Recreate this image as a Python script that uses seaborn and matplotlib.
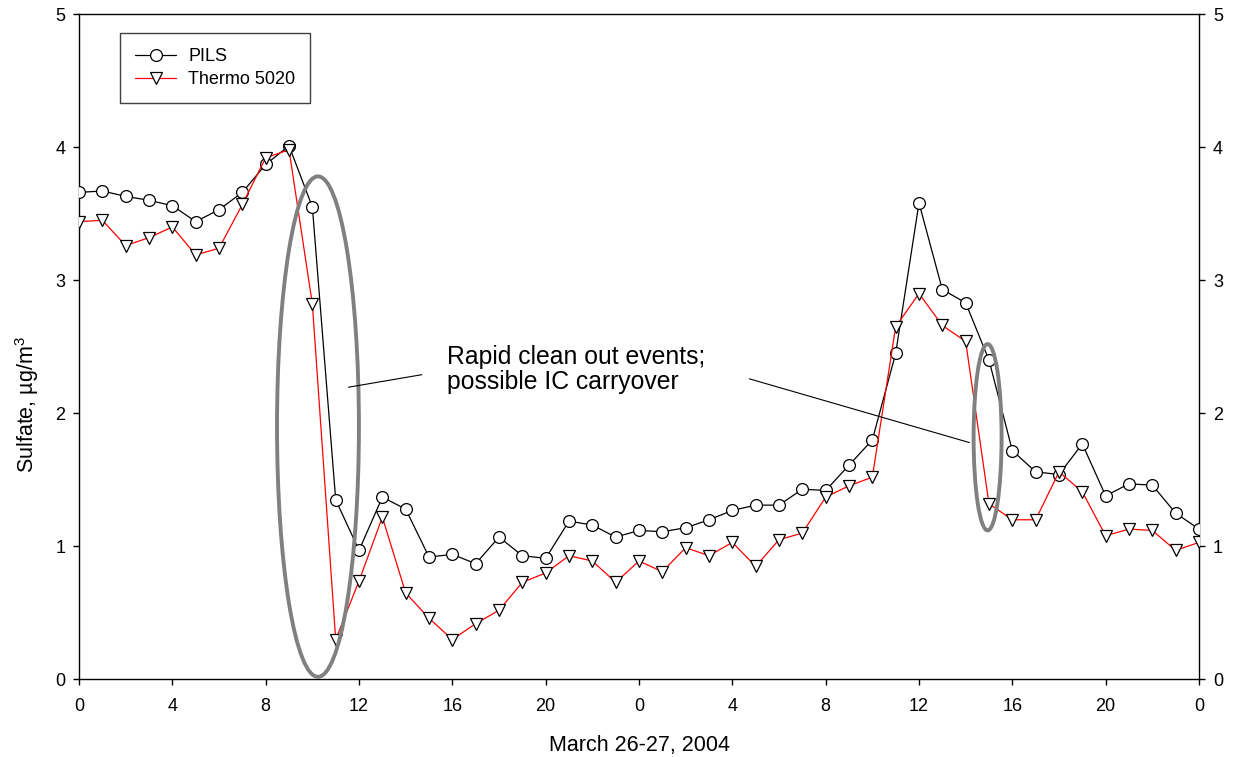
import matplotlib
matplotlib.use("Agg")
import matplotlib.pyplot as plt
from matplotlib.patches import Ellipse
import seaborn as sns
import pandas as pd

# ---------------- data ----------------
hours = list(range(49))
pils = [3.66, 3.67, 3.63, 3.60, 3.56, 3.44, 3.53, 3.66, 3.87, 4.01, 3.55,
        1.35, 0.97, 1.37, 1.28, 0.92, 0.94, 0.87, 1.07, 0.93, 0.91,
        1.19, 1.16, 1.07, 1.12, 1.11, 1.14, 1.20, 1.27, 1.31, 1.31,
        1.43, 1.42, 1.61, 1.80, 2.45, 3.58, 2.93, 2.83, 2.40, 1.72,
        1.56, 1.54, 1.77, 1.38, 1.47, 1.46, 1.25, 1.13]
thermo = [3.44, 3.45, 3.26, 3.32, 3.40, 3.19, 3.24, 3.57, 3.92, 3.98, 2.82,
          0.30, 0.74, 1.22, 0.65, 0.46, 0.30, 0.42, 0.52, 0.73, 0.80,
          0.93, 0.89, 0.73, 0.89, 0.81, 0.99, 0.93, 1.03, 0.85, 1.05,
          1.10, 1.37, 1.455, 1.52, 2.65, 2.90, 2.66, 2.54, 1.32, 1.20,
          1.20, 1.56, 1.41, 1.08, 1.13, 1.12, 0.97, 1.03]
series_names = ["PILS", "Thermo 5020"]
xtick_pos = list(range(0, 49, 4))
xtick_labels = ["0", "4", "8", "12", "16", "20", "0", "4", "8", "12", "16", "20", "0"]
ytick_pos = [0, 1, 2, 3, 4, 5]
annotation_text = "Rapid clean out events;\npossible IC carryover"

# annotation geometry (data coordinates)
ell1 = dict(center=(10.24, 1.90), width=3.51, height=3.76)
ell2 = dict(center=(38.94, 1.82), width=1.20, height=1.40)
lead1_x, lead1_y = [11.55, 14.69], [2.196, 2.29]
lead2_x, lead2_y = [28.73, 38.16], [2.259, 1.78]
text_xy = (15.76, 2.18)   # baseline of the last text line

# ---------------- style ----------------
sns.set_style("ticks")
plt.rcParams["font.family"] = ["Liberation Sans", "DejaVu Sans"]
plt.rcParams["mathtext.fontset"] = "custom"
plt.rcParams["mathtext.rm"] = "Liberation Sans"
plt.rcParams["mathtext.it"] = "Liberation Sans:italic"
plt.rcParams["axes.edgecolor"] = "black"
plt.rcParams["axes.labelcolor"] = "black"
plt.rcParams["text.color"] = "black"
plt.rcParams["axes.linewidth"] = 1.0

fig = plt.figure(figsize=(12.39, 7.57), dpi=100)
ax = fig.add_axes([0.0638, 0.1024, 0.9039, 0.8791])

df = pd.DataFrame({"hour": hours, "PILS": pils, "Thermo 5020": thermo})

sns.lineplot(data=df, x="hour", y="PILS", ax=ax, color="black", lw=0.9,
             marker="o", markersize=8.5, markerfacecolor="white",
             markeredgecolor="black", markeredgewidth=0.9,
             legend=False, label=series_names[0], zorder=3)
line_pils = ax.lines[-1]
sns.lineplot(data=df, x="hour", y="Thermo 5020", ax=ax, color="red", lw=0.9,
             marker="v", markersize=8, markerfacecolor="white",
             markeredgecolor="black", markeredgewidth=0.9,
             legend=False, label=series_names[1], zorder=4)
line_thermo = ax.lines[-1]

# annotations
for e in (ell1, ell2):
    ax.add_patch(Ellipse(e["center"], e["width"], e["height"], fill=False,
                         edgecolor="#808080", linewidth=2.8, zorder=5))
ax.plot(lead1_x, lead1_y, color="black", lw=0.8, zorder=6)
ax.plot(lead2_x, lead2_y, color="black", lw=0.8, zorder=6)
ax.text(text_xy[0], text_xy[1], annotation_text, fontsize=17.8,
        ha="left", va="baseline", linespacing=1.05, color="black")

# axes
ax.set_xlim(0, 48)
ax.set_ylim(0, 5)
ax.set_xticks(xtick_pos)
ax.set_xticklabels(xtick_labels)
ax.set_yticks(ytick_pos)
ax.set_yticklabels([str(v) for v in ytick_pos])
ax.tick_params(axis="both", direction="out", length=4, width=1,
               labelsize=13, colors="black")
ax.tick_params(axis="x", pad=9.5, top=False)
ax.tick_params(axis="y", pad=6, left=True, right=True, labelright=True)
for s in ax.spines.values():
    s.set_visible(True)
    s.set_color("black")
    s.set_linewidth(1.0)

ax.set_xlabel("March 26-27, 2004", fontsize=15.5, labelpad=14.5, color="black")
ax.set_ylabel("Sulfate, µg/m$^3$", fontsize=15.5, color="black")
ax.yaxis.set_label_coords(-0.034, 0.4125)

leg = ax.legend(handles=[line_pils, line_thermo], labels=series_names,
                loc="upper left", bbox_to_anchor=(0.0366, 0.971),
                borderaxespad=0, fontsize=13, frameon=True, fancybox=False,
                edgecolor="#404040", framealpha=1, borderpad=0.82,
                labelspacing=0.34, handlelength=2.3, handletextpad=0.65)
leg.get_frame().set_linewidth(1.0)

fig.savefig("out.png", dpi=100)
